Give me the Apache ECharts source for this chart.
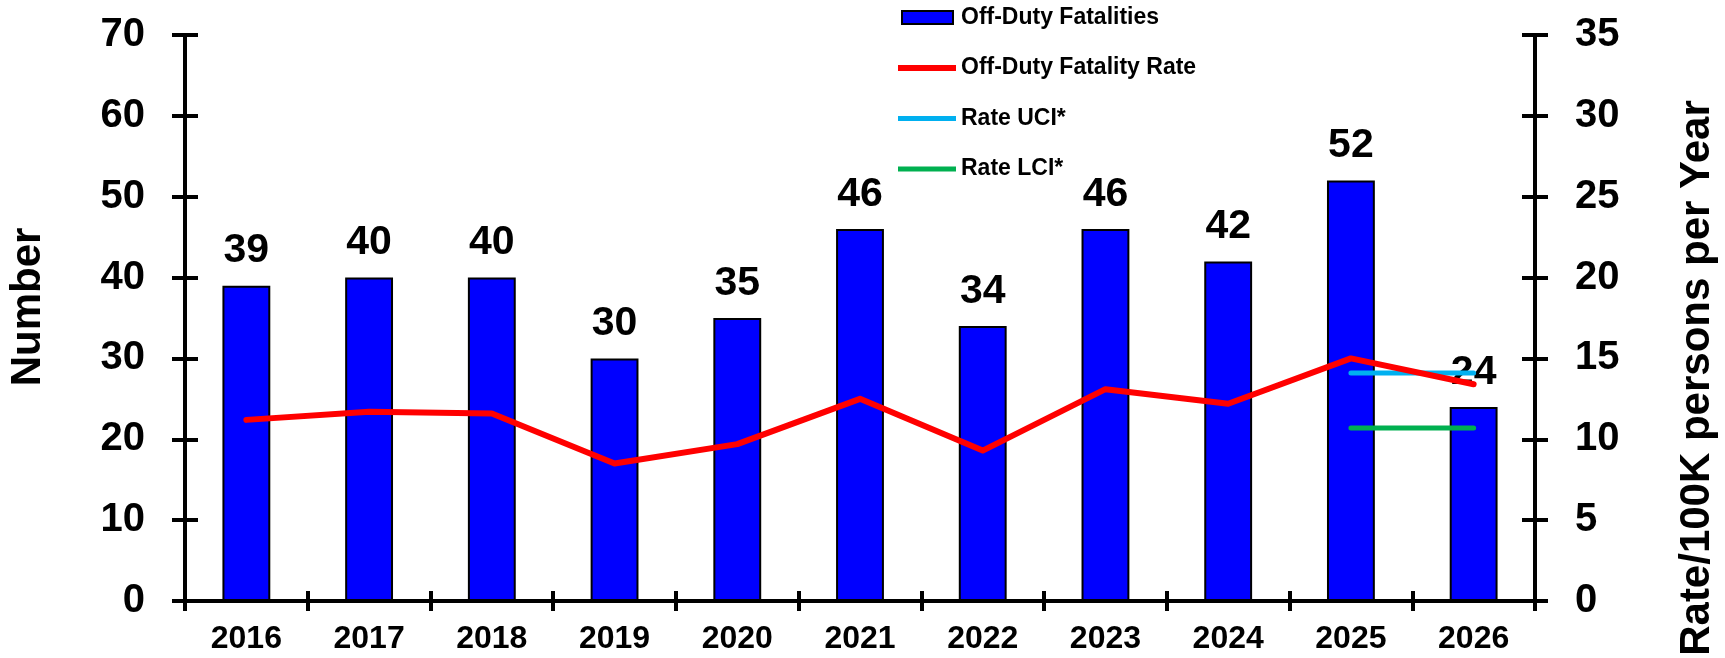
<!DOCTYPE html>
<html>
<head>
<meta charset="utf-8">
<script src="https://cdn.jsdelivr.net/npm/echarts@6/dist/echarts.min.js"></script>
<style>
html,body{margin:0;padding:0;background:#fff;}
#chart{width:1725px;height:658px;}
</style>
</head>
<body>
<div id="chart"></div>
<script>
const years = ['2016','2017','2018','2019','2020','2021','2022','2023','2024','2025','2026'];
const fatalities = [39, 40, 40, 30, 35, 46, 34, 46, 42, 52, 24];
const fatalityRate = [11.2, 11.7, 11.6, 8.5, 9.7, 12.5, 9.3, 13.1, 12.2, 15.0, 13.4];
const rateUCI = [null, null, null, null, null, null, null, null, null, 14.1, 14.1];
const rateLCI = [null, null, null, null, null, null, null, null, null, 10.7, 10.7];
const leftTicks = {min: 0, max: 70, interval: 10};
const rightTicks = {min: 0, max: 35, interval: 5};

const FONT = '"Liberation Sans", Arial, sans-serif';
const chart = echarts.init(document.getElementById('chart'));

function yAx(pos, ticks, inside, extra) {
  return Object.assign({
    type: 'value', position: pos,
    min: ticks.min, max: ticks.max, interval: ticks.interval,
    splitLine: {show: false},
    axisLine: {show: true, lineStyle: {color: '#000', width: 4}},
    axisTick: {show: true, inside: inside, length: 13, lineStyle: {color: '#000', width: 4}},
    axisLabel: {show: !inside, margin: 40, color: '#000', fontSize: 40, fontWeight: 'bold', fontFamily: FONT}
  }, extra || {});
}

// legend icons: thick line band inside a 58x13 box
const thickLineIcon = 'path://M0,0 L0,0 M0,13 L0,13 M0,3.5 L58,3.5 L58,9.5 L0,9.5 Z';
const thinLineIcon = 'path://M0,0 L0,0 M0,13 L0,13 M0,4 L58,4 L58,9 L0,9 Z';

chart.setOption({
  animation: false,
  backgroundColor: '#fff',
  grid: {left: 185, right: 190, top: 35, bottom: 57, containLabel: false, outerBoundsMode: 'none'},
  legend: {
    orient: 'vertical', left: 892, top: 1, itemWidth: 58, itemHeight: 13, itemGap: 27.5,
    textStyle: {color: '#000', fontSize: 23, fontWeight: 'bold', fontFamily: FONT},
    data: [
      {name: 'Off-Duty Fatalities', icon: 'path://M4,0 L55,0 L55,13 L4,13 Z M0,0 L0,0 M58,0 L58,0',
       itemStyle: {color: '#0000FF', borderColor: '#000', borderWidth: 2}},
      {name: 'Off-Duty Fatality Rate', icon: thickLineIcon, itemStyle: {color: '#FF0000', borderWidth: 0}},
      {name: 'Rate UCI*', icon: thinLineIcon, itemStyle: {color: '#00B0F0', borderWidth: 0}},
      {name: 'Rate LCI*', icon: thinLineIcon, itemStyle: {color: '#00B050', borderWidth: 0}}
    ]
  },
  xAxis: [
    {
      type: 'category', position: 'bottom', data: years, boundaryGap: true,
      axisLine: {show: true, onZero: false, lineStyle: {color: '#000', width: 4}},
      axisTick: {show: true, length: 10, alignWithLabel: false, lineStyle: {color: '#000', width: 4}},
      axisLabel: {margin: 22, color: '#000', fontSize: 32, fontWeight: 'bold', fontFamily: FONT},
      splitLine: {show: false}
    },
    {
      type: 'category', position: 'bottom', data: years, boundaryGap: true,
      axisLine: {show: false, onZero: false},
      axisTick: {show: true, inside: true, length: 10, lineStyle: {color: '#000', width: 4}},
      axisLabel: {show: false},
      splitLine: {show: false}
    }
  ],
  yAxis: [
    yAx('left', leftTicks, false, {
      name: 'Number', nameLocation: 'middle', nameGap: 136, nameRotate: 90,
      nameTextStyle: {color: '#000', fontSize: 42, fontWeight: 'bold', fontFamily: FONT, padding: [0, 0, 0, 22]}
    }),
    yAx('right', rightTicks, false, {
      name: 'Rate/100K persons per Year', nameLocation: 'middle', nameGap: 141, nameRotate: 90,
      nameTextStyle: {color: '#000', fontSize: 42, fontWeight: 'bold', fontFamily: FONT, padding: [0, 120, 0, 0]}
    }),
    yAx('left', leftTicks, true),
    yAx('right', rightTicks, true)
  ],
  series: [
    {
      name: 'Off-Duty Fatalities', type: 'bar', xAxisIndex: 0, yAxisIndex: 0,
      data: fatalities, barWidth: '39%',
      itemStyle: {color: '#0000FF', borderColor: '#000', borderWidth: 2},
      label: {show: true, position: 'top', distance: 14, color: '#000', fontSize: 41, fontWeight: 'bold', fontFamily: FONT},
      z: 2
    },
    {
      name: 'Off-Duty Fatality Rate', type: 'line', xAxisIndex: 0, yAxisIndex: 1,
      data: fatalityRate, symbol: 'none', color: '#FF0000',
      lineStyle: {color: '#FF0000', width: 6, cap: 'round', join: 'round'}, z: 4
    },
    {
      name: 'Rate UCI*', type: 'line', xAxisIndex: 0, yAxisIndex: 1,
      data: rateUCI, symbol: 'none', color: '#00B0F0', connectNulls: false,
      lineStyle: {color: '#00B0F0', width: 5, cap: 'round'}, z: 3
    },
    {
      name: 'Rate LCI*', type: 'line', xAxisIndex: 0, yAxisIndex: 1,
      data: rateLCI, symbol: 'none', color: '#00B050', connectNulls: false,
      lineStyle: {color: '#00B050', width: 5, cap: 'round'}, z: 3
    }
  ]
});
</script>
</body>
</html>
